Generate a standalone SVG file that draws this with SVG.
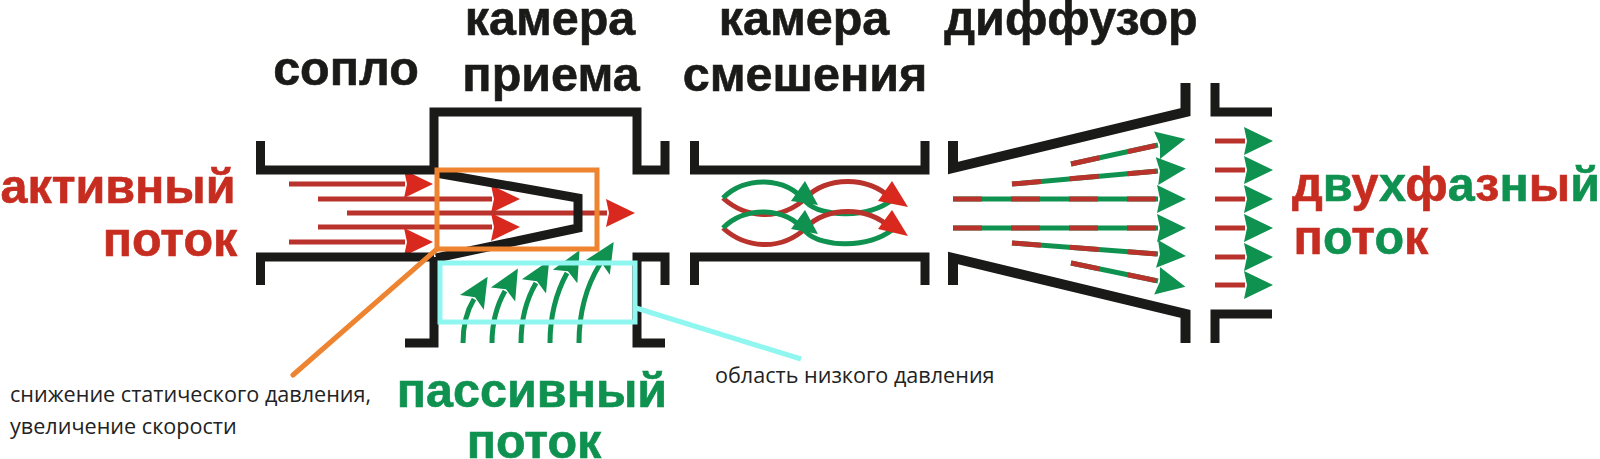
<svg xmlns="http://www.w3.org/2000/svg" width="1600" height="459" viewBox="0 0 1600 459">
<style>
.w{fill:none;stroke:#1a1a18;stroke-width:9;stroke-linecap:butt;stroke-linejoin:miter}
.s{fill:none;stroke:#1a1a18;stroke-width:10;stroke-linejoin:miter}
.r{stroke:#b9322c;stroke-width:5;fill:none}
.g{stroke:#0f9150;stroke-width:5;fill:none}
.d{stroke-dasharray:29 29}
.hr{fill:#d9281e}.hg{fill:#0f9150}
.t{font-family:"Liberation Sans",Arial,sans-serif;font-weight:700;font-size:48.5px;text-anchor:middle;stroke-width:.6}
.k{fill:#1a1a18;stroke:#1a1a18}.red{fill:#c62d20;stroke:#c62d20}.gr{fill:#0f9150;stroke:#0f9150}
.n{font-family:"Open Sans","Noto Sans",sans-serif;font-size:21.600px;fill:#222}
</style>
<defs>
<marker id="mr" markerUnits="userSpaceOnUse" markerWidth="32" markerHeight="30" refX="1" refY="15" orient="auto"><path d="M0 1L29 15L0 29L3 15Z" fill="#d9281e"/></marker>
<marker id="mg" markerUnits="userSpaceOnUse" markerWidth="32" markerHeight="30" refX="1" refY="15" orient="auto"><path d="M0 1L29 15L0 29L3 15Z" fill="#0f9150"/></marker>
<marker id="mp" markerUnits="userSpaceOnUse" markerWidth="34" markerHeight="30" refX="4" refY="15" orient="auto"><path d="M0 1L30 15L0 29L6 15Z" fill="#0f9150"/></marker>
</defs>
<rect width="1600" height="459" fill="#fff"/>
<g id="connectors">
<g id="active-arrows">
<path class="r" d="M289 184H405" marker-end="url(#mr)"/>
<path class="r" d="M318 199H492" marker-end="url(#mr)"/>
<path class="r" d="M347 213H607" marker-end="url(#mr)"/>
<path class="r" d="M318 227H492" marker-end="url(#mr)"/>
<path class="r" d="M289 242H405" marker-end="url(#mr)"/>
</g>
<g id="passive-arrows">
<path class="g" d="M463 343C463 325 466 312 474 299" marker-end="url(#mp)"/>
<path class="g" d="M492 343C492 320 497 305 505 291" marker-end="url(#mp)"/>
<path class="g" d="M521 343C521 318 526 300 536 283" marker-end="url(#mp)"/>
<path class="g" d="M550 343C550 315 556 293 567 273" marker-end="url(#mp)"/>
<path class="g" d="M579 343C579 310 587 285 600 264" marker-end="url(#mp)"/>
</g>
<g id="mixing-arrows">
<path class="r" d="M723 198C745 218 780 222 806 198C825 176 870 176 890 198"/>
<path class="g" d="M723 198C745 176 785 176 806 202C822 218 868 218 892 200"/>
<path class="r" d="M723 228C745 248 780 252 806 228C825 206 870 206 890 228"/>
<path class="g" d="M723 228C745 206 785 206 806 232C822 248 868 248 892 230"/>
<path class="hg" d="M805 181L791 201L818 205Z"/>
<path class="hg" d="M805 210L791 229L818 234Z"/>
<path class="hr" d="M908 207L892 181L878 201Z"/>
<path class="hr" d="M908 236L892 210L878 229Z"/>
</g>
<g id="diffuser-arrows">
<path class="g" d="M1071 164L1158 145" marker-end="url(#mg)"/>
<path class="r d" d="M1071 164L1158 145"/>
<path class="g" d="M1012 184L1158 171" marker-end="url(#mg)"/>
<path class="r d" d="M1012 184L1158 171"/>
<path class="g" d="M953 199H1158" marker-end="url(#mg)"/>
<path class="r d" d="M953 199H1158"/>
<path class="g" d="M953 228H1158" marker-end="url(#mg)"/>
<path class="r d" d="M953 228H1158"/>
<path class="g" d="M1012 243L1158 254" marker-end="url(#mg)"/>
<path class="r d" d="M1012 243L1158 254"/>
<path class="g" d="M1071 263L1158 281" marker-end="url(#mg)"/>
<path class="r d" d="M1071 263L1158 281"/>
</g>
<g id="outlet-arrows">
<path class="r" d="M1215 141H1245" marker-end="url(#mg)"/>
<path class="r" d="M1215 170H1245" marker-end="url(#mg)"/>
<path class="r" d="M1215 199H1245" marker-end="url(#mg)"/>
<path class="r" d="M1215 228H1245" marker-end="url(#mg)"/>
<path class="r" d="M1215 257H1245" marker-end="url(#mg)"/>
<path class="r" d="M1215 285H1245" marker-end="url(#mg)"/>
</g>
</g>
<g id="ejector-walls">
<path class="w" d="M260.500 141V170H434V112H637V170H665V141"/>
<path class="w" d="M260.500 285V257H434M405 343H434V257M665 285V257H637V343H665"/>
<path class="w" d="M436 173L578 198V228L436 258"/>
</g>
<g id="mixing-walls">
<path class="w" d="M694.500 141V170H925V141"/>
<path class="w" d="M694.500 285V257H925V285"/>
</g>
<g id="diffuser-walls">
<path class="s" d="M953 141V168L1185.500 112V83"/>
<path class="s" d="M953 285V258L1185.500 314V343"/>
<path class="w" d="M1215 83V112H1272"/>
<path class="w" d="M1215 343V314H1272"/>
</g>
<g id="callout-orange" fill="none" stroke="#ee8330">
<rect x="437" y="170" width="160" height="79" stroke-width="5"/>
<path d="M437 249L293 375" stroke-width="5" stroke-linecap="round"/>
</g>
<g id="callout-cyan" fill="none" stroke="#8ff7f0">
<rect x="440" y="263" width="195" height="59" stroke-width="5"/>
<path d="M636 308L801 359" stroke-width="5"/>
</g>
<g id="labels">
<text class="t k" x="346" y="85">сопло</text>
<text class="t k" x="550" y="35">камера</text>
<text class="t k" x="551" y="91">приема</text>
<text class="t k" x="804" y="35">камера</text>
<text class="t k" x="805" y="91">смешения</text>
<text class="t k" x="1071" y="35">диффузор</text>
<text class="t red" x="118" y="203">активный</text>
<text class="t red" x="170" y="256">поток</text>
<text class="t gr" x="532" y="407">пассивный</text>
<text class="t gr" x="534" y="458">поток</text>
<text class="t" x="1446" y="201"><tspan class="red">д</tspan><tspan class="gr">в</tspan><tspan class="red">у</tspan><tspan class="gr">х</tspan><tspan class="red">ф</tspan><tspan class="gr">а</tspan><tspan class="red">з</tspan><tspan class="gr">н</tspan><tspan class="red">ы</tspan><tspan class="gr">й</tspan></text>
<text class="t" x="1361" y="254"><tspan class="red">п</tspan><tspan class="gr">о</tspan><tspan class="red">т</tspan><tspan class="gr">о</tspan><tspan class="red">к</tspan></text>
<text class="n" x="10" y="402">снижение статического давления,</text>
<text class="n" x="10" y="434">увеличение скорости</text>
<text class="n" x="715" y="383">область низкого давления</text>
</g>
</svg>
